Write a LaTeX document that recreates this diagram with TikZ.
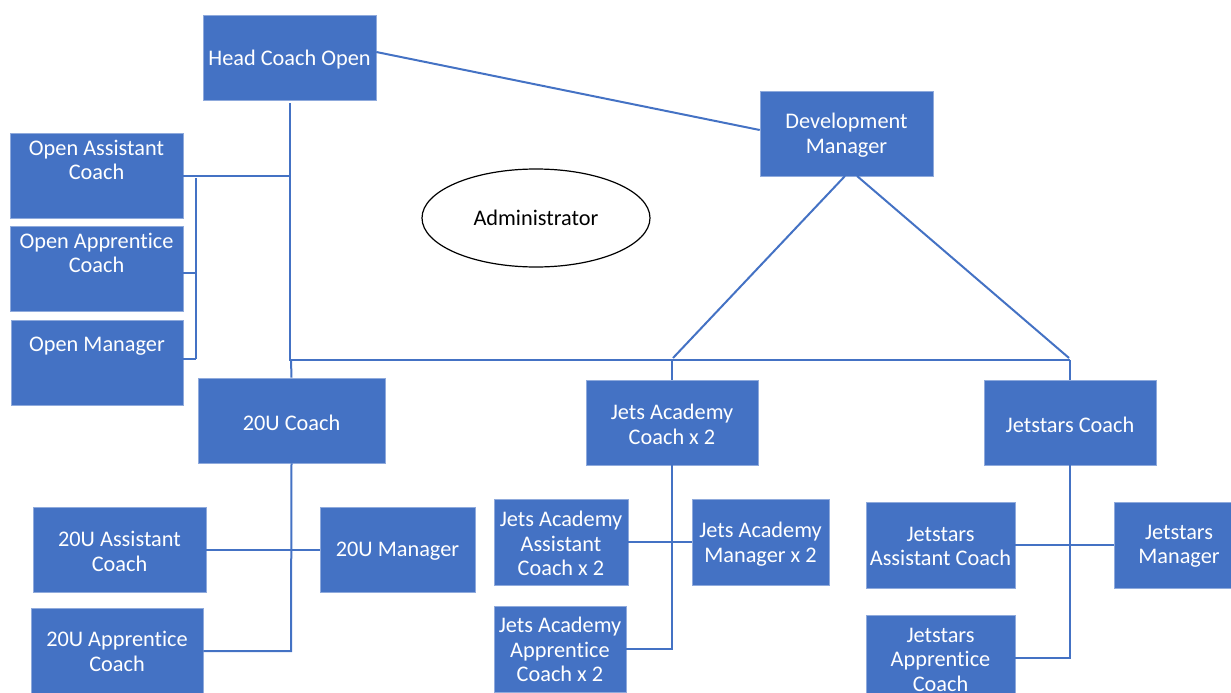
\documentclass[tikz,border=0pt]{standalone}
\usepackage{fontspec}
\usetikzlibrary{shapes.geometric}
\setmainfont[Ligatures=NoCommon]{Carlito}
\definecolor{obl}{HTML}{4472C4}
\definecolor{oln}{HTML}{4472C4}
\definecolor{obd}{HTML}{8FAADC}
\tikzset{
  box/.style={draw=obd, line width=0.6pt, fill=obl, rectangle, inner sep=0pt},
  lbl/.style={text=white, align=center, font=\fontsize{22.3}{24.5}\selectfont, inner sep=0pt, yshift=-1.5pt},
  conn/.style={draw=oln, line width=2pt},
}
\newcommand\orgbox[6]{%
  \node[box, minimum width=#4-#2, minimum height=#5-#3] (#1) at ({(#2+#4)/2},{(#3+#5)/2}) {};
}
\begin{document}
\begin{tikzpicture}[x=1pt,y=-1pt]
\useasboundingbox (0,0) rectangle (1231,693);
% boxes
\orgbox{head}{203}{15}{376}{100}{}
\orgbox{oac}{10}{133}{183}{218}{}
\orgbox{oapc}{10}{226}{183}{311}{}
\orgbox{om}{11}{320}{183}{405}{}
\orgbox{dev}{760}{91}{933}{176}{}
\orgbox{u20}{198}{378}{385}{463}{}
\orgbox{jac}{586}{380}{758}{465}{}
\orgbox{jsc}{984}{380}{1156}{465}{}
\orgbox{u20a}{33}{507}{206}{592}{}
\orgbox{u20m}{320}{507}{475}{592}{}
\orgbox{u20p}{31}{608}{203}{710}{}
\orgbox{jaa}{494}{499}{628}{585}{}
\orgbox{jam}{692}{499}{829}{585}{}
\orgbox{jap}{494}{606}{626}{692}{}
\orgbox{jsa}{866}{502}{1015}{588}{}
\orgbox{jsm}{1114}{502}{1240}{588}{}
\orgbox{jsp}{866}{615}{1015}{710}{}
% labels
\node[lbl] (thead) at (289.5,58) {Head Coach Open};
\node[lbl] (toac) at (96.5,158.5) {Open Assistant\\Coach};
\node[lbl] (toapc) at (96.5,251.5) {Open Apprentice\\Coach};
\node[lbl] (tom) at (97,345) {Open Manager};
\node[lbl] (tdev) at (846.5,133.5) {Development\\Manager};
\node[lbl] (tu20) at (291.5,421) {20U Coach};
\node[lbl] (tjac) at (672,423) {Jets Academy\\Coach x 2};
\node[lbl] (tjsc) at (1070,423) {Jetstars Coach};
\node[lbl] (tu20a) at (119.5,550) {20U Assistant\\Coach};
\node[lbl] (tu20m) at (397.5,550) {20U Manager};
\node[lbl] (tu20p) at (117,650) {20U Apprentice\\Coach};
\node[lbl] (tjaa) at (561,542) {Jets Academy\\Assistant\\Coach x 2};
\node[lbl] (tjam) at (760.5,542.5) {Jets Academy\\Manager x 2};
\node[lbl] (tjap) at (560,648) {Jets Academy\\Apprentice\\Coach x 2};
\node[lbl] (tjsa) at (940.5,545) {Jetstars\\Assistant Coach};
\node[lbl] (tjsm) at (1179,545) {Jetstars\\Manager};
\node[lbl] (tjsp) at (940.5,658) {Jetstars\\Apprentice\\Coach};
% administrator
\node[draw=black, line width=1.2pt, ellipse, minimum width=228, minimum height=98, inner sep=0pt,
      font=\fontsize{22.3}{24.5}\selectfont] (admin) at (536,218) {Administrator};
% connectors
\coordinate (bus) at (290,360);
\coordinate (busr) at (1070,360);
\coordinate (busm) at (672,360);
\coordinate (oj) at (290,176);
\coordinate (ov1) at (196,178);
\coordinate (ov2) at (196,359);
\draw[conn] (head.east |- 0,52) -- (dev.west |- 0,130);
\draw[conn] (290,103) -- (bus) -- (busr);
\draw[conn] (291,360) -- (u20.north);
\draw[conn] (oac.east |- oj) -- (oj);
\draw[conn] (ov1) -- (ov2);
\draw[conn] (oapc.east |- 0,273) -- (196,273);
\draw[conn] (om.east |- ov2) -- (ov2);
\draw[conn] (845,176) -- (673,358);
\draw[conn] (857,176) -- (1069,358);
\draw[conn] (busm) -- (jac.north);
\draw[conn] (busr) -- (jsc.north);
% 20U
\draw[conn] (u20.south) -- (291,651) -- (u20p.east |- 0,651);
\draw[conn] (u20a.east) -- (u20m.west);
% Jets academy
\draw[conn] (jac.south) -- (672,649) -- (jap.east |- 0,649);
\draw[conn] (jaa.east) -- (jam.west);
% Jetstars
\draw[conn] (jsc.south) -- (1070,658) -- (jsp.east |- 0,658);
\draw[conn] (jsa.east) -- (jsm.west);
\end{tikzpicture}
\end{document}
